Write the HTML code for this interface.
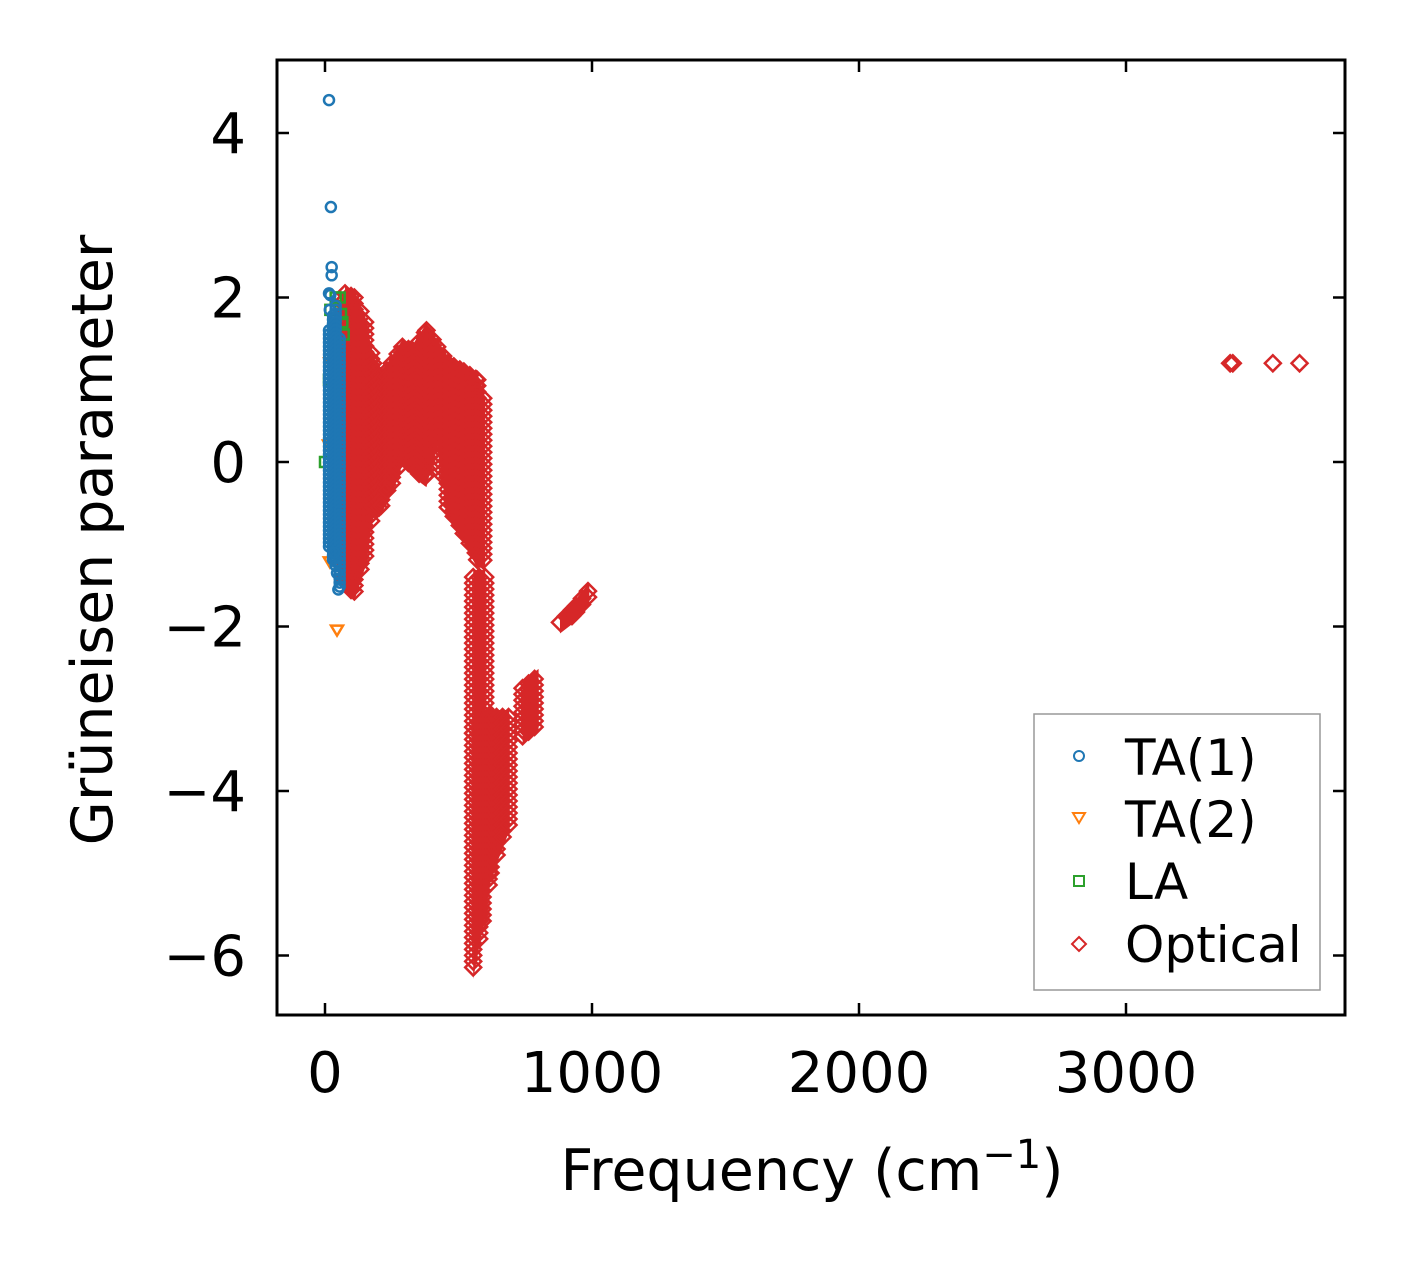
<!DOCTYPE html>
<html><head><meta charset="utf-8"><style>
body{margin:0;background:#fff}
svg text{font-family:"DejaVu Sans","Liberation Sans",sans-serif;fill:#000}
</style></head><body>
<svg id="chart" width="1406" height="1264" viewBox="0 0 1406 1264" xmlns="http://www.w3.org/2000/svg">
<rect width="1406" height="1264" fill="#fff"/>
<g id="marks"></g>
<rect x="277" y="60" width="1068" height="955" fill="none" stroke="#000" stroke-width="3"/>
<g id="axes"></g>
<text x="112" y="540" font-size="57" text-anchor="middle" transform="rotate(-90 112 540)">Grüneisen parameter</text>
<text x="812" y="1190" font-size="57" text-anchor="middle">Frequency (cm<tspan dy="-22" font-size="40">−1</tspan><tspan dy="22">)</tspan></text>
<g>
<rect x="1034" y="714" width="286" height="276" fill="#fff" stroke="#999" stroke-width="1.5"/>
<circle cx="1079" cy="756" r="5" fill="none" stroke="#1f77b4" stroke-width="2"/>
<text x="1125" y="775" font-size="50">TA(1)</text>
<path d="M1073,813 L1085,813 L1079,823 Z" fill="none" stroke="#ff7f0e" stroke-width="2"/>
<text x="1125" y="837" font-size="50">TA(2)</text>
<rect x="1074" y="876" width="10" height="10" fill="none" stroke="#2ca02c" stroke-width="2"/>
<text x="1125" y="899" font-size="50">LA</text>
<path d="M1079,937 L1086,944 L1079,951 L1072,944 Z" fill="none" stroke="#d62728" stroke-width="2"/>
<text x="1125" y="962" font-size="50">Optical</text>
</g>
</svg>
<script>
const xTicks=[0,1000,2000,3000];
const yTicks=[4,2,0,-2,-4,-6];
const yTickLabels=["4","2","0","−2","−4","−6"];
// Optical envelope groups: [freq, gammaLow, gammaHigh]
const opticalMain=[[75,-1.5,2.05],[110,-1.6,2.0],[150,-1.2,1.7],[180,-0.6,1.2],[210,-0.55,1.0],[250,-0.3,1.2],[290,0.05,1.4],[330,-0.1,1.35],[380,-0.22,1.6],[420,0.3,1.4],[460,-0.6,1.2],[520,-0.9,1.1],[570,-1.2,1.0],[600,-1.2,0.7]];
const opticalMid=[[555,-3.3,-1.4],[600,-3.3,-1.4]];
const opticalLow=[[555,-6.2,-3.3],[590,-5.6,-3.1],[620,-5.0,-3.1],[690,-4.4,-3.1]];
const opticalLow2=[[740,-3.35,-2.75],[800,-3.2,-2.6]];
const opticalDiag=[[880,-2.0,-1.95],[940,-1.85,-1.75],[990,-1.65,-1.55]];
const opticalHigh=[[3390,1.2],[3400,1.2],[3550,1.2],[3650,1.2]];
const ta1Band=[[15,-1.05,1.6],[40,-1.3,1.9],[55,-1.55,1.5]];
const ta1Out=[[15,4.4],[22,3.1],[25,2.37],[25,2.27],[15,2.05],[20,2.03],[18,1.85],[50,-1.55],[45,-1.35],[35,-1.1]];
const ta2Out=[[45,-2.05],[18,-1.22],[20,1.2],[15,0.2]];
const laPts=[[0,0],[40,2.0],[55,2.0],[60,1.8],[65,1.7],[70,1.55],[20,1.85],[15,1.0]];

const X=f=>325+f*0.267, Y=g=>462-g*82.25;
const NS="http://www.w3.org/2000/svg";
const marks=document.getElementById('marks'), axes=document.getElementById('axes');
function mk(tag,attrs,parent){const e=document.createElementNS(NS,tag);for(const k in attrs)e.setAttribute(k,attrs[k]);parent.appendChild(e);return e;}
function diamond(f,g,name){const x=X(f),y=Y(g);const e=mk('path',{d:`M${x},${y-8} L${x+8},${y} L${x},${y+8} L${x-8},${y} Z`,fill:'none',stroke:'#d62728','stroke-width':2.5},marks);

}
function fillBand(arr,name,fn,stepPx){
 for(let i=0;i<arr.length-1;i++){const a=arr[i],b=arr[i+1];const x0=X(a[0]),x1=X(b[0]);
  for(let x=x0;x<=x1;x+=stepPx){const t=(x-x0)/(x1-x0||1);const lo=a[1]+(b[1]-a[1])*t,hi=a[2]+(b[2]-a[2])*t;
   const f=(x-325)/0.267;for(let py=Y(hi);py<=Y(lo);py+=stepPx)fn(f,(462-py)/82.25,name);}}}
function poly(arr,name){const top=arr.map(p=>`${X(p[0])},${Y(p[2])-7}`),bot=arr.slice().reverse().map(p=>`${X(p[0])},${Y(p[1])+7}`);
 const e=mk('polygon',{points:top.concat(bot).join(' '),fill:'#d62728'},marks);
 
 
 fillBand(arr,name+'-marker',diamond,6);}
poly(opticalMain,'optical-main');
poly(opticalMid,'optical-mid');
poly(opticalLow,'optical-low');
poly(opticalLow2,'optical-low2');
poly(opticalDiag,'optical-diag');
opticalHigh.forEach(p=>diamond(p[0],p[1],'optical-high-point'));
function circ(f,g,name){const e=mk('circle',{cx:X(f),cy:Y(g),r:5,fill:'none',stroke:'#1f77b4','stroke-width':2.5},marks);

}
laPts.forEach(p=>{const e=mk('rect',{x:X(p[0])-5,y:Y(p[1])-5,width:10,height:10,fill:'none',stroke:'#2ca02c','stroke-width':2.5},marks);

});
ta2Out.forEach(p=>{const x=X(p[0]),y=Y(p[1]);const e=mk('path',{d:`M${x-6},${y-5} L${x+6},${y-5} L${x},${y+5} Z`,fill:'none',stroke:'#ff7f0e','stroke-width':2.5},marks);

});
fillBand(ta1Band,'ta1-point',circ,4);
ta1Out.forEach(p=>circ(p[0],p[1],'ta1-point'));
xTicks.forEach(v=>{const x=X(v);
 const t=mk('path',{d:`M${x},1015 v-12 M${x},60 v12`,stroke:'#000','stroke-width':2.5},axes);
 
 
 const l=mk('text',{x:x,y:1092,'font-size':56,'text-anchor':'middle'},axes);l.textContent=v;
 
 });
yTicks.forEach((v,i)=>{const y=Y(v);
 const t=mk('path',{d:`M277,${y} h12 M1345,${y} h-12`,stroke:'#000','stroke-width':2.5},axes);
 
 
 const l=mk('text',{x:246,y:y+20,'font-size':56,'text-anchor':'end'},axes);l.textContent=yTickLabels[i];
 
 });
</script>
</body></html>
